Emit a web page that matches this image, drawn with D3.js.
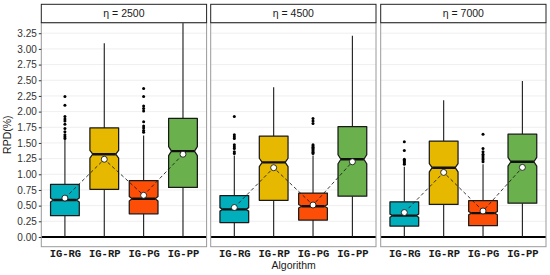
<!DOCTYPE html>
<html>
<head>
<meta charset="utf-8">
<script src="https://cdn.jsdelivr.net/npm/d3@7"></script>
<style>
  body { margin: 0; background: #fff; }
  svg { display: block; }
</style>
</head>
<body>
<script>
// categories and panels
const categories = ["IG-RG", "IG-RP", "IG-PG", "IG-PP"];
const panels = ["η = 2500", "η = 4500", "η = 7000"];
const colors = ["#00AFBB", "#E7B800", "#FC4E07", "#6AB04C"];
const yTicks = [0, 0.25, 0.5, 0.75, 1, 1.25, 1.5, 1.75, 2, 2.25, 2.5, 2.75, 3, 3.25];

// box statistics, one row per panel
const whiskerLo = [[0, 0, 0, 0], [0, 0, 0, 0], [0, 0, 0, 0]];
const q1 = [[0.34, 0.76, 0.37, 0.79], [0.23, 0.585, 0.27, 0.65], [0.175, 0.52, 0.18, 0.54]];
const median = [[0.59, 1.32, 0.61, 1.37], [0.44, 1.19, 0.49, 1.24], [0.34, 1.105, 0.38, 1.2]];
const q3 = [[0.84, 1.74, 0.9, 1.89], [0.66, 1.61, 0.7, 1.76], [0.56, 1.53, 0.58, 1.64]];
const whiskerHi = [[1.55, 3.09, 1.62, 3.6], [1.3, 2.39, 1.3, 3.21], [1.12, 2.18, 1.16, 2.49]];
const means = [[0.62, 1.24, 0.665, 1.32], [0.47, 1.105, 0.51, 1.2], [0.39, 1.03, 0.415, 1.11]];

const outliers = [
  [[1.57, 1.6, 1.63, 1.68, 1.73, 1.8, 1.85, 1.88, 1.92, 2.1, 2.24], [],
   [1.67, 1.7, 1.74, 1.77, 1.84, 2.01, 2.05, 2.09, 2.24, 2.37], []],
  [[1.33, 1.36, 1.41, 1.44, 1.47, 1.57, 1.6, 1.63, 1.92], [],
   [1.33, 1.35, 1.37, 1.39, 1.41, 1.43, 1.45, 1.47, 1.81, 1.85, 1.89], []],
  [[1.16, 1.18, 1.2, 1.22, 1.24, 1.38, 1.52], [],
   [1.2, 1.23, 1.26, 1.29, 1.32, 1.36, 1.41, 1.64], []]
];
const nObs = 600; // for notch size

const W = 550, H = 275;
const panelX = [41.3, 210.7, 380.7];
const panelW = 165.3;
const plotTop = 22.7, plotBottom = 246.7, stripTop = 4.3;

const svg = d3.select("body").append("svg").attr("width", W).attr("height", H);

const y = d3.scaleLinear().domain([-0.155, 3.418]).range([plotBottom, plotTop]);
const x = d3.scalePoint().domain(categories).range([0, panelW]).padding(0.6);
const hw = x.step() * 0.365;
const nw = hw * 0.8;

const defs = svg.append("defs");
defs.append("clipPath").attr("id", "clip")
  .append("rect").attr("x", 0).attr("y", plotTop).attr("width", panelW).attr("height", plotBottom - plotTop);

panels.forEach((label, p) => {
  const g = svg.append("g").attr("transform", `translate(${panelX[p]},0)`);

  // grid
  g.selectAll(".grid").data(yTicks).enter().append("line")
    .attr("x1", 0).attr("x2", panelW)
    .attr("y1", d => y(d)).attr("y2", d => y(d))
    .attr("stroke", "#EBEBEB").attr("stroke-width", 0.8);

  const inner = g.append("g").attr("clip-path", "url(#clip)");

  // zero line
  inner.append("line")
    .attr("x1", 0).attr("x2", panelW)
    .attr("y1", y(0)).attr("y2", y(0))
    .attr("stroke", "#000").attr("stroke-width", 2);

  categories.forEach((c, i) => {
    const cx = x(c);
    // whiskers
    inner.append("line").attr("x1", cx).attr("x2", cx)
      .attr("y1", y(q3[p][i])).attr("y2", y(whiskerHi[p][i]))
      .attr("stroke", "#1a1a1a").attr("stroke-width", 1.1);
    inner.append("line").attr("x1", cx).attr("x2", cx)
      .attr("y1", y(q1[p][i])).attr("y2", y(whiskerLo[p][i]))
      .attr("stroke", "#1a1a1a").attr("stroke-width", 1.1);

    // notched box
    const iqr = q3[p][i] - q1[p][i];
    const nd = 1.58 * iqr / Math.sqrt(nObs);
    const m = median[p][i];
    const pts = [
      [cx - hw, y(q3[p][i])], [cx + hw, y(q3[p][i])],
      [cx + hw, y(m + nd)], [cx + nw, y(m)], [cx + hw, y(m - nd)],
      [cx + hw, y(q1[p][i])], [cx - hw, y(q1[p][i])],
      [cx - hw, y(m - nd)], [cx - nw, y(m)], [cx - hw, y(m + nd)]
    ];
    inner.append("polygon")
      .attr("points", pts.map(d => d.join(",")).join(" "))
      .attr("fill", colors[i]).attr("stroke", "#1a1a1a").attr("stroke-width", 1.25)
      .attr("stroke-linejoin", "round");
    inner.append("line").attr("x1", cx - nw).attr("x2", cx + nw)
      .attr("y1", y(m)).attr("y2", y(m))
      .attr("stroke", "#111").attr("stroke-width", 2.4);

    // outliers
    inner.selectAll(null).data(outliers[p][i]).enter().append("circle")
      .attr("cx", cx).attr("cy", d => y(d)).attr("r", 1.5).attr("fill", "#000");
  });

  // mean line and points
  const line = d3.line().x((d, i) => x(categories[i])).y(d => y(d));
  inner.append("path").attr("d", line(means[p]))
    .attr("fill", "none").attr("stroke", "#1a1a1a").attr("stroke-width", 0.85)
    .attr("stroke-dasharray", "3.5,2.5");
  inner.selectAll(null).data(means[p]).enter().append("circle")
    .attr("cx", (d, i) => x(categories[i])).attr("cy", d => y(d)).attr("r", 3)
    .attr("fill", "#fff").attr("stroke", "#1a1a1a").attr("stroke-width", 0.9);

  // panel border
  g.append("rect").attr("x", 0).attr("y", plotTop).attr("width", panelW).attr("height", plotBottom - plotTop)
    .attr("fill", "none").attr("stroke", "#9a9a9a").attr("stroke-width", 1);

  // strip
  g.append("rect").attr("x", 0).attr("y", stripTop).attr("width", panelW).attr("height", plotTop - stripTop)
    .attr("fill", "#fff").attr("stroke", "#222").attr("stroke-width", 1);
  g.append("text").attr("x", panelW / 2).attr("y", (stripTop + plotTop) / 2 + 3.6)
    .attr("text-anchor", "middle")
    .style("font-family", "Liberation Sans, Arial, sans-serif").style("font-size", "10.5px")
    .attr("fill", "#1a1a1a").text(label);

  // x axis
  const xa = g.append("g").attr("transform", `translate(0,${plotBottom})`)
    .call(d3.axisBottom(x).tickSize(0).tickPadding(2.5));
  xa.select(".domain").remove();
  xa.selectAll("text").style("font-family", "Liberation Mono, Courier New, monospace")
    .style("font-weight", "bold").style("font-size", "10.5px").attr("fill", "#1a1a1a");
});

// y axis
const ya = svg.append("g").attr("transform", `translate(${panelX[0]},0)`)
  .call(d3.axisLeft(y).tickValues(yTicks).tickFormat(d3.format(".2f")).tickSize(2.5).tickPadding(2));
ya.select(".domain").remove();
ya.selectAll(".tick line").attr("stroke", "#333");
ya.selectAll("text").style("font-family", "Liberation Sans, Arial, sans-serif")
  .style("font-size", "10px").attr("fill", "#333");

// axis titles
svg.append("text").attr("x", (panelX[0] + panelX[2] + panelW) / 2).attr("y", 269)
  .attr("text-anchor", "middle")
  .style("font-family", "Liberation Sans, Arial, sans-serif").style("font-size", "10.5px")
  .attr("fill", "#1a1a1a").text("Algorithm");
svg.append("text").attr("transform", `translate(11,${(plotTop + plotBottom) / 2}) rotate(-90)`)
  .attr("text-anchor", "middle")
  .style("font-family", "Liberation Sans, Arial, sans-serif").style("font-size", "10.5px")
  .attr("fill", "#1a1a1a").text("RPD(%)");
</script>
</body>
</html>
